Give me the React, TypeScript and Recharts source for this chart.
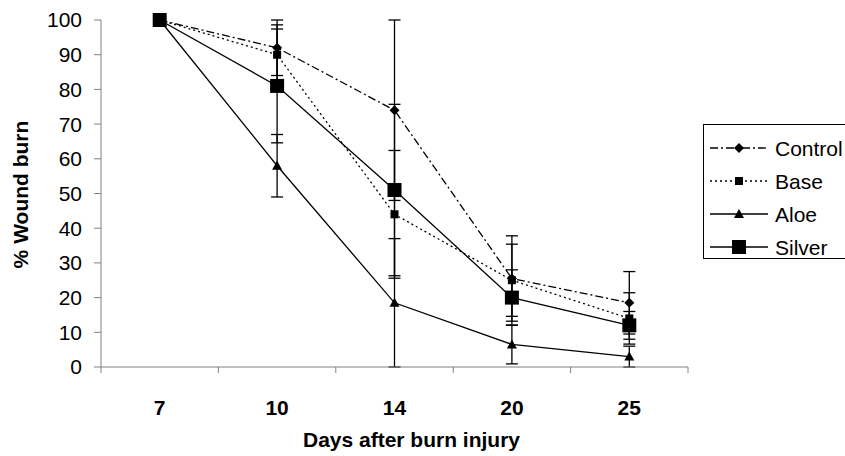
import React from "react"
import { LineChart, Line, XAxis, YAxis, ErrorBar, Label } from "recharts"

// days after injury and % wound burn per treatment
const days = ["7", "10", "14", "20", "25"]
const control = [100, 92, 74, 25.5, 18.5]
const base = [100, 90, 44, 25, 14]
const aloe = [100, 58, 18.5, 6.5, 3]
const silver = [100, 81, 51, 20, 12]

// symmetric error bars (± values)
const controlErr = [0, 8, 26, 12.3, 9]
const baseErr = [0, 8.6, 18.4, 10.4, 7.4]
const aloeErr = [0, 9, 18.5, 5.6, 3]
const silverErr = [0, 16.4, 24.7, 8, 4]

const yTicks = [0, 10, 20, 30, 40, 50, 60, 70, 80, 90, 100]

const W = 845
const H = 456
const MARGIN = { top: 20, right: 157, left: 0, bottom: 0 }
const Y_AXIS_W = 101
const X_AXIS_H = 89
const PLOT_W = W - MARGIN.left - MARGIN.right - Y_AXIS_W
const BAND = PLOT_W / days.length
const FONT = '"Liberation Sans", Arial, sans-serif'
const GRAY = "#808080"

const data = days.map((d, i) => ({
  day: d,
  control: control[i],
  controlErr: controlErr[i],
  base: base[i],
  baseErr: baseErr[i],
  aloe: aloe[i],
  aloeErr: aloeErr[i],
  silver: silver[i],
  silverErr: silverErr[i],
}))

type Shape = "diamond" | "smallSquare" | "triangle" | "bigSquare"

const series: { key: string; name: string; dash?: string; shape: Shape }[] = [
  { key: "control", name: "Control", dash: "8 3 2 3", shape: "diamond" },
  { key: "base", name: "Base", dash: "2 3", shape: "smallSquare" },
  { key: "aloe", name: "Aloe", shape: "triangle" },
  { key: "silver", name: "Silver", shape: "bigSquare" },
]

function marker(shape: Shape, cx: number, cy: number, key?: React.Key) {
  if (shape === "diamond")
    return <polygon key={key} points={`${cx},${cy - 5} ${cx + 5},${cy} ${cx},${cy + 5} ${cx - 5},${cy}`} fill="#000" />
  if (shape === "smallSquare") return <rect key={key} x={cx - 4} y={cy - 4} width={8} height={8} fill="#000" />
  if (shape === "triangle")
    return <polygon key={key} points={`${cx},${cy - 5} ${cx + 5},${cy + 4} ${cx - 5},${cy + 4}`} fill="#000" />
  return <rect key={key} x={cx - 7} y={cy - 7} width={14} height={14} fill="#000" />
}

function makeDot(shape: Shape) {
  return (p: any) => {
    if (p.cx == null || p.cy == null) return <g key={p.index} />
    return marker(shape, p.cx, p.cy, p.index)
  }
}

function DayTick(props: any) {
  const { x, y, payload, index, visibleTicksCount } = props
  const last = index === (visibleTicksCount ?? days.length) - 1
  return (
    <g>
      <line x1={x - BAND / 2} y1={y} x2={x - BAND / 2} y2={y + 6} stroke={GRAY} />
      {last && <line x1={x + BAND / 2} y1={y} x2={x + BAND / 2} y2={y + 6} stroke={GRAY} />}
      <text x={x} y={y + 48} textAnchor="middle" fontFamily={FONT} fontSize={21} fontWeight="bold" fill="#000">
        {payload.value}
      </text>
    </g>
  )
}

function XTitle(props: any) {
  const vb = props.viewBox
  return (
    <text x={vb.x + vb.width / 2 + 17} y={447} textAnchor="middle" fontFamily={FONT} fontSize={21} fontWeight="bold" fill="#000">
      Days after burn injury
    </text>
  )
}

function YTitle(props: any) {
  const vb = props.viewBox
  const cx = vb.x + 28
  const cy = vb.y + vb.height / 2 + 1
  return (
    <text x={cx} y={cy} transform={`rotate(-90 ${cx} ${cy})`} textAnchor="middle" fontFamily={FONT} fontSize={21} fontWeight="bold" fill="#000">
      % Wound burn
    </text>
  )
}

function LegendBox() {
  const top = 124
  return (
    <svg width={W} height={H} style={{ position: "absolute", left: 0, top: 0, pointerEvents: "none" }}>
      <rect x={703.5} y={top + 0.5} width={160} height={134} fill="#fff" stroke="#000" />
      {series.map((s, i) => {
        const y = 148 + i * 33
        return (
          <g key={s.key}>
            <line x1={710} y1={y} x2={768} y2={y} stroke="#000" strokeWidth={1.3} strokeDasharray={s.dash} />
            {marker(s.shape, 739, y)}
            <text x={775} y={y + 7.5} fontFamily={FONT} fontSize={21} fill="#000">
              {s.name}
            </text>
          </g>
        )
      })}
    </svg>
  )
}

export default function App() {
  return (
    <div style={{ position: "absolute", left: 0, top: 0, width: W, height: H, background: "#fff" }}>
      <LineChart width={W} height={H} data={data} margin={MARGIN}>
        <XAxis
          dataKey="day"
          stroke={GRAY}
          tickLine={false}
          tickSize={0}
          tickMargin={0}
          interval={0}
          height={X_AXIS_H}
          padding={{ left: BAND / 2, right: BAND / 2 }}
          tick={<DayTick />}
        >
          <Label content={<XTitle />} />
        </XAxis>
        <YAxis
          type="number"
          domain={[0, 100]}
          ticks={yTicks}
          interval={0}
          width={Y_AXIS_W}
          stroke={GRAY}
          tickSize={7}
          tickMargin={12}
          tick={{ fill: "#000", fontSize: 21, fontFamily: FONT }}
        >
          <Label content={<YTitle />} />
        </YAxis>
        {series.map((s) => (
          <Line
            key={s.key}
            dataKey={s.key}
            stroke="#000"
            strokeWidth={1.3}
            strokeDasharray={s.dash}
            dot={makeDot(s.shape)}
            activeDot={false}
            isAnimationActive={false}
          >
            <ErrorBar dataKey={s.key + "Err"} width={6} stroke="#000" strokeWidth={1.3} isAnimationActive={false} />
          </Line>
        ))}
      </LineChart>
      <LegendBox />
    </div>
  )
}
